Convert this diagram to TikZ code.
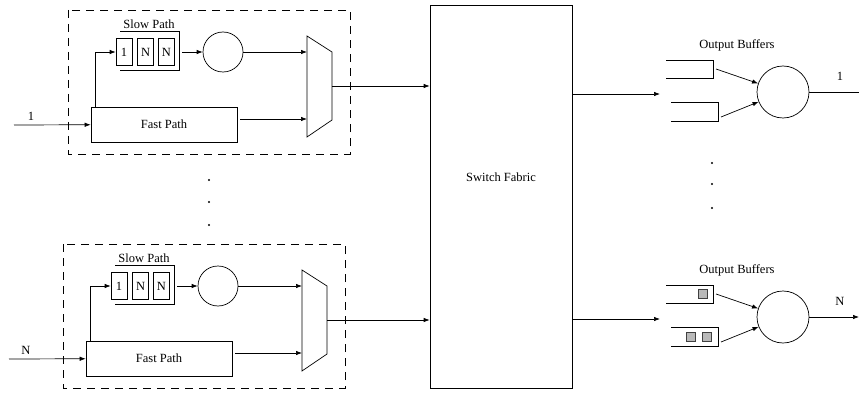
\documentclass[tikz,border=0pt]{standalone}
\usepackage{fontspec}
\setmainfont{Liberation Serif}
\usetikzlibrary{arrows.meta,positioning}

\tikzset{
  every node/.style={font=\fontsize{12.5}{14}\selectfont},
  line/.style={line width=0.7pt},
  arr/.style={line, -{Latex[length=6pt,width=4.5pt]}},
  area/.style={draw, line width=0.7pt, dash pattern=on 8pt off 6pt},
  cell/.style={draw, line width=0.7pt, minimum width=16pt, minimum height=27pt, inner sep=0pt},
  pathbox/.style={draw, line width=0.7pt, minimum width=146pt, minimum height=35pt},
  sched/.style={draw, circle, line width=0.7pt, minimum size=40pt, inner sep=0pt},
  pkt/.style={draw=black!75, fill=gray!55, line width=0.6pt, minimum size=9pt, inner sep=0pt},
}

\begin{document}
\begin{tikzpicture}[x=1pt, y=-1pt]
  \useasboundingbox (0,0) rectangle (859,393);

  % input ports with slow and fast path
  \foreach \i/\dx/\dy/\lbl in {t/0/0/1, b/-5/234/N} {
    \begin{scope}[shift={(\dx,\dy)}]
      \draw[area] (68,10) rectangle (350,154);
      \node[pathbox] (fast\i) at (164,124.5) {Fast Path};
      \node[cell] (ca\i) at (124,52) {1};
      \node[cell, right=5pt of ca\i] (cb\i) {N};
      \node[cell, right=4pt of cb\i] (cc\i) {N};
      \draw[line] (120,31) -| (179,70) -- (120,70);
      \node (slow\i) at (149,24) {Slow Path};
      \node[sched] (sched\i) at (223,52) {};
      \draw[line] (307,36) -- (332,52) -- (332,120) -- (307,137) -- cycle;
      \coordinate (qout\i) at (182,52);
      \coordinate (muxa\i) at (307,52);
      \coordinate (muxb\i) at (307,119);
      \coordinate (mux\i) at (332,86);
      \coordinate (port\i) at (14,125);
      \node (in\i) at (31,116) {\lbl};
      \draw[arr] (port\i) -- (fast\i);
      \draw[arr] ([xshift=5pt]fast\i.north west) |- (ca\i);
      \draw[arr] (qout\i) -- (sched\i);
      \draw[arr] (sched\i) -- (muxa\i);
      \draw[arr] ([xshift=3pt]fast\i.east |- muxb\i) -- (muxb\i);
    \end{scope}
  }

  \fill (209,180) circle (1.1pt) (209,202) circle (1.1pt) (209,225) circle (1.1pt);

  % switch
  \node[draw, line, minimum width=142pt, minimum height=383pt, inner sep=0pt] (sw) at (501,196.5) {};
  \node (swl) at (501,177) {Switch Fabric};
  \draw[arr] (muxt) -- (muxt -| sw.west);
  \draw[arr] (muxb) -- (muxb -| sw.west);

  % output ports
  \foreach \j/\dy/\lbl in {t/0/1, b/225/N} {
    \begin{scope}[shift={(0,\dy)}]
      \node (obuf\j) at (737,45) {Output Buffers};
      \draw[line] (666,60) -| (713,78) -- (666,78);
      \draw[line] (671,102) -| (718,121) -- (671,121);
      \coordinate (bufa\j) at (716,69);
      \coordinate (bufb\j) at (721,117);
      \coordinate (swout\j) at (572,94);
      \coordinate (oin\j) at (660,94);
      \node[sched, minimum size=52pt] (out\j) at (783,92) {};
      \coordinate (oend\j) at (859,92);
      \node (olab\j) at (840,76) {\lbl};
      \draw[arr] (swout\j) -- (oin\j);
      \draw[arr] (bufa\j) -- (out\j);
      \draw[arr] (bufb\j) -- (out\j);
    \end{scope}
  }
  \draw[line] (outt) -- (oendt);
  \draw[arr] (outb) -- (oendb);

  % queued packets
  \node[pkt] (pa) at (702.5,294) {};
  \node[pkt] (pb) at (690.5,337) {};
  \node[pkt] (pc) at (706.5,337) {};

  \fill (712,163) circle (1.1pt) (712,184) circle (1.1pt) (712,208) circle (1.1pt);
\end{tikzpicture}
\end{document}
